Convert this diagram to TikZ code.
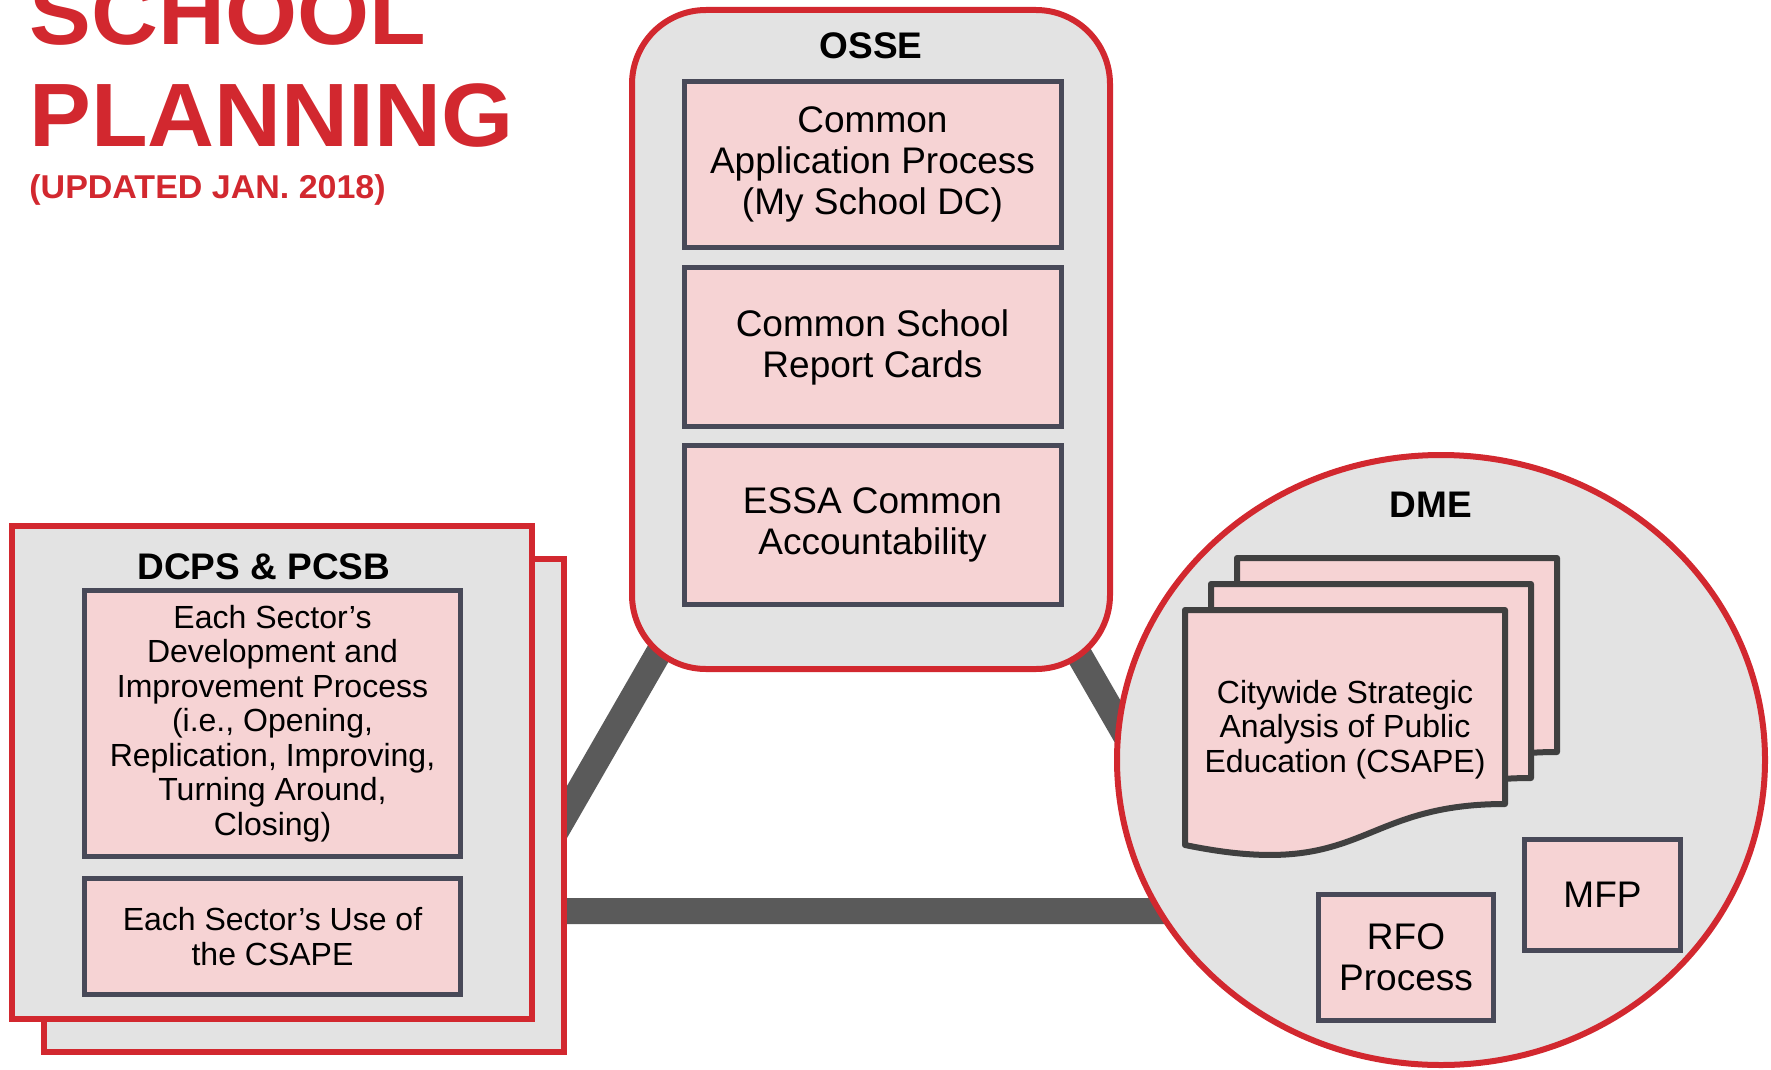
\documentclass[tikz,border=0pt]{standalone}
\usepackage{fontspec}
\setmainfont{Liberation Sans}
\newfontfamily\headfont[FakeStretch=1.03]{Liberation Sans}
\usetikzlibrary{positioning, shapes.geometric}
\definecolor{dcred}{RGB}{210,40,47}
\definecolor{panelgray}{RGB}{227,227,227}
\definecolor{boxpink}{RGB}{246,211,212}
\definecolor{slate}{RGB}{72,73,88}
\definecolor{linkgray}{RGB}{90,90,90}
\definecolor{pagegray}{RGB}{64,64,64}
\tikzset{
x=0.5pt, y=-0.5pt, % one unit is one pixel of the layout, y runs down
bodyframe/.style={draw=dcred, line width=3pt, fill=panelgray, inner sep=0pt}, % red frame round each body
bodylabel/.style={font=\bfseries\fontsize{18.5}{20}\selectfont, inner sep=0pt}, % name of the body
item/.style={draw=slate, line width=2.5pt, fill=boxpink, align=center, inner sep=0pt, font=\fontsize{18.5}{20.5}\selectfont}, % pink boxes
tallitem/.style={item, execute at begin node=\rule{0pt}{0.9em}}, % pink boxes whose text sits a little lower
smallitem/.style={item, font=\fontsize{16}{17.25}\selectfont}, % pink boxes with more text
link/.style={draw=linkgray, line width=13pt}, % thick grey triangle behind the bodies
docpage/.style={draw=pagegray, line width=3pt, fill=boxpink, line join=round}, % one sheet of the CSAPE stack
headline/.style={text=dcred, font=\headfont\bfseries\fontsize{45}{50}\selectfont, inner sep=0pt, anchor=base west}, % red title
}

\begin{document}
\begin{tikzpicture}
      \clip (0,0) rectangle (1771,1070);

      % title
      \node[headline] (school) at (29,45) {SCHOOL};
      \node[headline] (planning) at (29,147) {PLANNING};
      \node[headline, font=\headfont\bfseries\fontsize{16.5}{18}\selectfont] (updated) at (29,198) {(UPDATED JAN. 2018)};

      % triangle linking the three bodies
      \coordinate (apex) at (868,289);
      \coordinate (baseL) at (510,911);
      \coordinate (baseR) at (1227,911);
      \draw[link] (apex) -- (baseL) -- (baseR) -- cycle;

      % DCPS & PCSB
      \node[bodyframe, minimum width=260pt, minimum height=246.5pt] (dcpsback) at (304,805.5) {};
      \node[bodyframe, minimum width=260pt, minimum height=246.5pt] (dcps) at (272,772) {};
      \node[bodylabel] (dcpslabel) at (264,566.5) {DCPS \& PCSB};
      \node[smallitem, minimum width=188pt, minimum height=133pt] (develop) at (272.5,723.5) {Each Sector’s\\Development and\\Improvement Process\\(i.e., Opening,\\Replication, Improving,\\Turning Around,\\Closing)};
      \node[smallitem, minimum width=188pt, minimum height=58pt, below=8.5pt of develop] (use) {Each Sector’s Use of\\the CSAPE};

      % OSSE
      \node[bodyframe, rounded corners=37pt, minimum width=239pt, minimum height=329.5pt] (osse) at (871,339.5) {};
      \node[bodylabel] (osselabel) at (871,46) {OSSE};
      \node[tallitem, minimum width=188.5pt, minimum height=83pt] (app) at (872.5,164.5) {Common\\Application Process\\(My School DC)};
      \node[tallitem, minimum width=188.5pt, minimum height=79.5pt, below=7.5pt of app] (cards) {Common School\\Report Cards};
      \node[tallitem, minimum width=188.5pt, minimum height=79.5pt, below=7pt of cards] (essa) {ESSA Common\\Accountability};

      % DME
      \node[bodyframe, ellipse, minimum width=324pt, minimum height=305pt] (dme) at (1441,760) {};
      \node[bodylabel] (dmelabel) at (1431,505) {DME};
      \draw[docpage, shift={(1237,558)}] (0,0) -- (320,0) -- (320,194) .. controls (170,194) and (180,272) .. (0,235) -- cycle;
      \draw[docpage, shift={(1211,584)}] (0,0) -- (320,0) -- (320,194) .. controls (170,194) and (180,272) .. (0,235) -- cycle;
      \draw[docpage, shift={(1185,610)}] (0,0) -- (320,0) -- (320,194) .. controls (170,194) and (180,272) .. (0,235) -- cycle;
      \node[align=center, inner sep=0pt, font=\fontsize{16}{17.25}\selectfont] (csape) at (1345,729.5) {Citywide Strategic\\Analysis of Public\\Education (CSAPE)};
      \node[item, minimum width=87.5pt, minimum height=63pt] (rfo) at (1406,957.5) {RFO\\Process};
      \node[item, minimum width=78pt, minimum height=55.5pt] (mfp) at (1602.5,895) {MFP};
\end{tikzpicture}
\end{document}
